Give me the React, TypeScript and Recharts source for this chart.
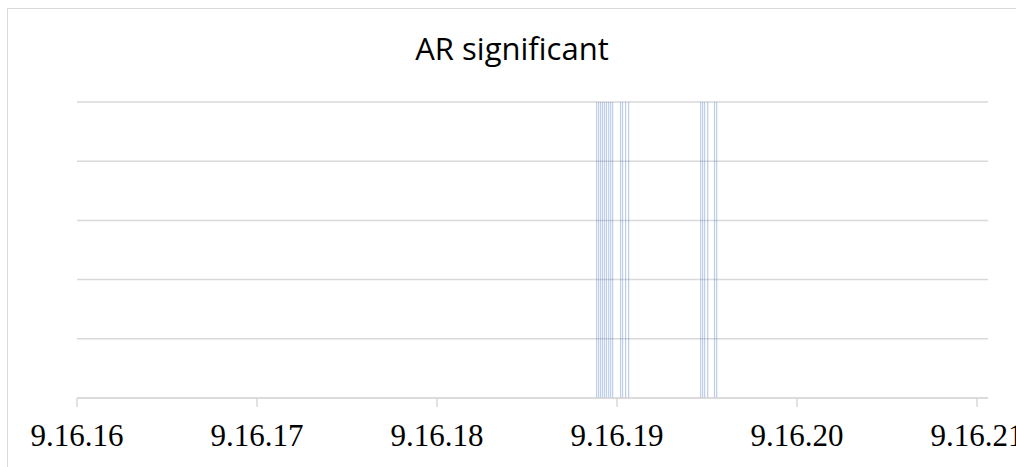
import React from "react";
import { ComposedChart, Bar, XAxis, YAxis, CartesianGrid } from "recharts";

// seconds after 9:16:00
const times = [
  18.889, 18.9, 18.911, 18.922, 18.933, 18.944, 18.956, 18.967, 18.978,
  19.022, 19.033, 19.05, 19.067, 19.467, 19.478, 19.489, 19.506, 19.544,
  19.556,
];
const significant = [1, 1, 1, 1, 1, 1, 1, 1, 1, 1, 1, 1, 1, 1, 1, 1, 1, 1, 1];
const xTicks = [16, 17, 18, 19, 20, 21];
const yTicks = [0, 0.2, 0.4, 0.6, 0.8, 1];

const data = times.map((t, i) => ({ t, v: significant[i] }));

const GRID = "#d9d9d9";

const TimeTick = (props: any) => {
  const { x, payload } = props;
  return (
    <text
      x={x}
      y={446}
      textAnchor="middle"
      fontFamily="'Liberation Serif', 'Times New Roman', serif"
      fontSize={31}
      fill="#000"
    >
      {`9.16.${payload.value}`}
    </text>
  );
};

export default function App() {
  return (
    <div
      style={{
        position: "absolute",
        left: 0,
        top: 0,
        width: 1016,
        height: 467,
        overflow: "hidden",
        background: "#fff",
      }}
    >
      <div
        style={{
          position: "absolute",
          left: 7,
          top: 8,
          width: 1300,
          height: 700,
          border: `1px solid ${GRID}`,
        }}
      />
      <div
        style={{
          position: "absolute",
          left: 0,
          width: 1024,
          top: 27,
          textAlign: "center",
          fontFamily: "'Open Sans', sans-serif",
          fontSize: 31,
          color: "#000",
        }}
      >
        AR significant
      </div>
      <div style={{ position: "absolute", left: 0, top: 0 }}>
        <ComposedChart
          width={1016}
          height={467}
          data={data}
          margin={{ top: 102, right: 28, bottom: 0, left: 77 }}
        >
          <CartesianGrid vertical={false} stroke={GRID} strokeWidth={1.5} />
          <XAxis
            type="number"
            dataKey="t"
            domain={[16, 16 + 911 / 180]}
            ticks={xTicks}
            allowDataOverflow
            height={69}
            stroke={GRID}
            strokeWidth={1.5}
            tickSize={9}
            tick={<TimeTick />}
          />
          <YAxis hide domain={[0, 1]} ticks={yTicks} />
          <Bar
            dataKey="v"
            barSize={1.2}
            fill="#4472C4"
            fillOpacity={0.35}
            isAnimationActive={false}
          />
        </ComposedChart>
      </div>
    </div>
  );
}
